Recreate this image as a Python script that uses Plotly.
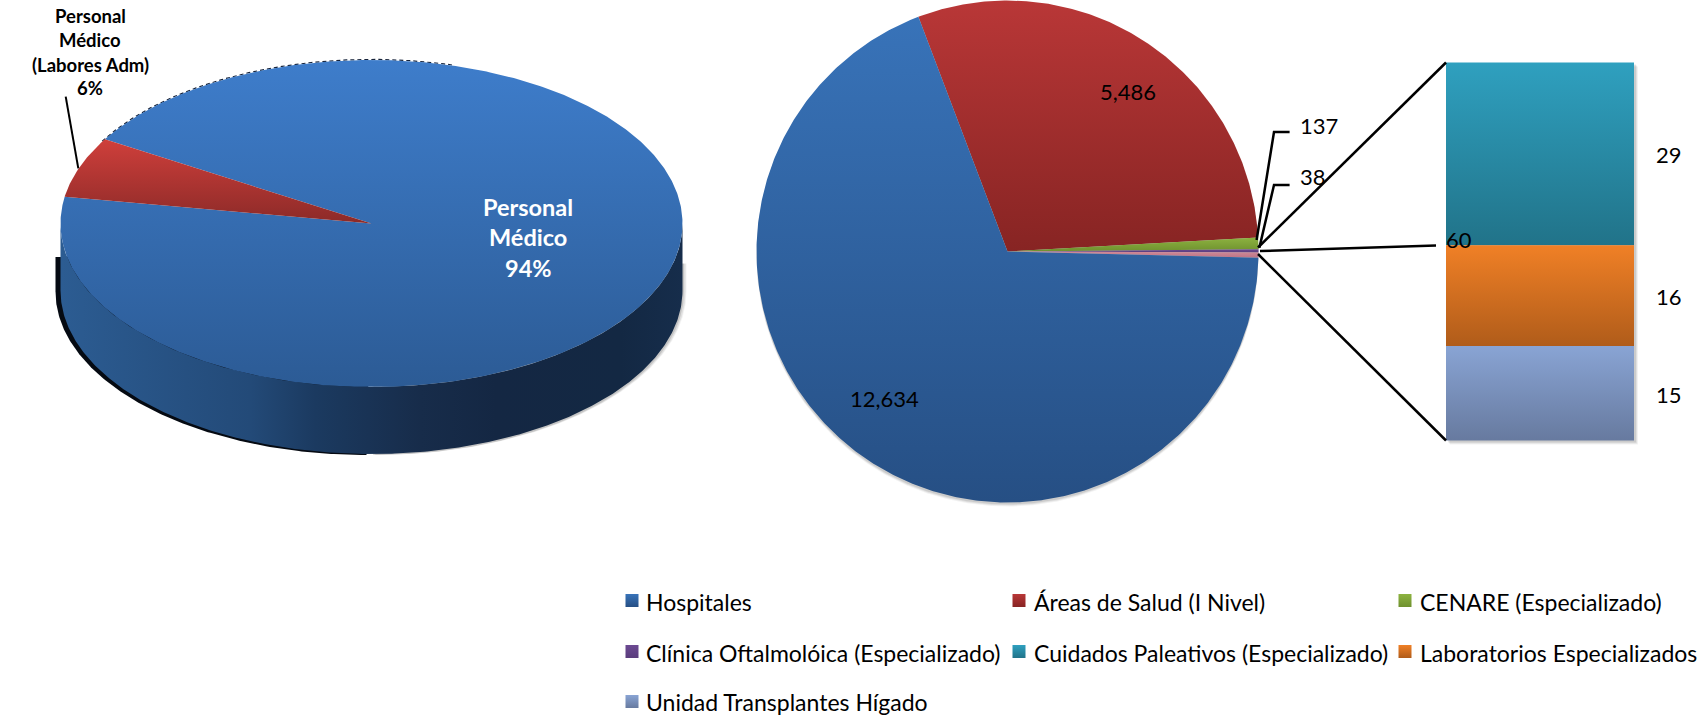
import numpy as np
import plotly.graph_objects as go

# ---- data ----
left_names = ["Personal Médico", "Personal Médico (Labores Adm)"]
left_values = [94, 6]
categories = ["Hospitales", "Áreas de Salud (I Nivel)", "CENARE (Especializado)",
              "Clínica Oftalmolóica (Especializado)", "Cuidados Paleativos (Especializado)",
              "Laboratorios Especializados", "Unidad Transplantes Hígado"]
main_values = [12634, 5486, 137, 38]
detail_values = [29, 16, 15]

# ---- styles ----
FONT = "Lato"
W, H = 1707, 716
grad = {
    "hosp": ("#3873b9", "#264f84"), "areas": ("#b93737", "#872423"),
    "cenare": ("#8db340", "#6f912f"), "clin": ("#6c4a92", "#5a3c7c"),
    "other": ("#cf8a98", "#bd7486"), "cuid": ("#2fa0bf", "#217389"),
    "lab": ("#f08026", "#b05c1a"), "unid": ("#89a4d4", "#677a9f"),
}
fig = go.Figure()


def poly(x, y, colors, name, orientation="vertical", scale=None):
    x, y = np.asarray(x), np.asarray(y)
    if orientation == "vertical":
        start, stop = float(y.min()), float(y.max())
    else:
        start, stop = float(x.min()), float(x.max())
    cs = scale or [[0, colors[0]], [1, colors[1]]]
    fig.add_trace(go.Scatter(
        x=x, y=y, mode="lines", fill="toself", line=dict(width=0), name=name,
        fillgradient=dict(type=orientation, colorscale=cs, start=start, stop=stop),
        hoverinfo="name", showlegend=False))


def solid(x, y, color, name):
    fig.add_trace(go.Scatter(x=x, y=y, mode="lines", fill="toself", fillcolor=color,
                             line=dict(width=0), name=name, hoverinfo="skip", showlegend=False))


def arc(cx, cy, rx, ry, a0, a1):
    t = np.radians(np.linspace(a0, a1, max(int(abs(a1 - a0) * 2), 4)))
    return cx + rx * np.sin(t), cy - ry * np.cos(t)


def line(xs, ys, w=2, color="black", dash=None):
    fig.add_trace(go.Scatter(x=xs, y=ys, mode="lines", line=dict(color=color, width=w, dash=dash),
                             hoverinfo="skip", showlegend=False))


def label(x, y, text, size=22, color="black", bold=False, anchor="center"):
    fig.add_annotation(x=x, y=y, xref="x", yref="y", text=f"<b>{text}</b>" if bold else text,
                       showarrow=False, xanchor=anchor, yanchor="middle",
                       font=dict(family=FONT, size=size, color=color))


# ---- left: tilted pie ----
LX, LY, LRX, LRY, DEPTH = 371.5, 223.5, 311, 163.5, 67
left_total = sum(left_values)
red_start = 279.4
red_end = red_start + 360 * left_values[1] / left_total
# grey halo on the right, black edge on the lower left, then the side wall
for off, alpha in [(4, 0.05), (3, 0.08), (1.5, 0.12)]:
    hx, hy = arc(LX + off, LY + DEPTH + 1, LRX, LRY, 90, 180)
    solid(np.r_[LX, LX + LRX + off, hx, LX], np.r_[LY + 50, LY + 40, hy, LY + 50],
          f"rgba(0,0,0,{alpha})", "halo")
ax, ay = arc(LX - 5, LY + DEPTH + 1, LRX, LRY, 270, 180)
solid(np.r_[LX, LX - 5 - LRX, ax, LX], np.r_[257, 257, ay, 257], "#050a12", "edge")
sx, sy = arc(LX, LY, LRX, LRY, 90, 270)
bx, by = arc(LX, LY + DEPTH, LRX, LRY, 270, 90)
poly(np.r_[sx, bx], np.r_[sy, by], None, "side", "horizontal",
     [[0, "#2c5c92"], [0.305, "#234a78"], [0.41, "#1b3a60"], [0.58, "#172c4a"],
      [0.7, "#142743"], [0.9, "#132843"], [1, "#162d4b"]])
# dark rim along the back of the disc
tx, ty = arc(LX, LY - 0.6, LRX, LRY, -60, 15)
line(tx, ty, 1.2, "#16233a", "4px,3px")
# faces
fx, fy = arc(LX, LY, LRX, LRY, red_end, red_start + 360)
poly(np.r_[LX, fx, LX], np.r_[LY, fy, LY], ("#3e7dcb", "#2c5b95"), left_names[0])
rx_, ry_ = arc(LX, LY, LRX, LRY, red_start, red_end)
poly(np.r_[LX, rx_, LX], np.r_[LY, ry_, LY], ("#cf3f3b", "#8c2a28"), left_names[1])

for y_, t in zip([16, 40, 65, 88], ["Personal", "Médico", "(Labores Adm)", f"{left_values[1]}%"]):
    label(83 * 1.0886, y_, t, size=18.5, bold=True)
for y_, t in zip([207, 237, 268], ["Personal", "Médico", f"{left_values[0]}%"]):
    label(528, y_, t, size=23.5, color="white", bold=True)
line([65.7, 78.3], [96.7, 168.3], 2)

# ---- right: pie with stacked breakout ----
PX, PY, PR = 1007.5, 251.5, 251
all_slices = main_values + [sum(detail_values)]
total = sum(all_slices)
keys = ["hosp", "areas", "cenare", "clin", "other"]
start_angle = 339.2
order = [1, 2, 3, 4, 0]
# soft drop shadow
for off, alpha in [(4, 0.05), (3, 0.07), (2, 0.09)]:
    sx_, sy_ = arc(PX, PY + off, PR, PR, 0, 360)
    solid(sx_, sy_, f"rgba(0,0,0,{alpha})", "shadow")
ang = start_angle
for i in order:
    sweep = 360 * all_slices[i] / total
    ax_, ay_ = arc(PX, PY, PR, PR, ang, ang + sweep)
    poly(np.r_[PX, ax_, PX], np.r_[PY, ay_, PY], grad[keys[i]], categories[i] if i < 4 else "Otros")
    ang += sweep

# stacked column: pixels per unit come from the values
BX0, BX1, BY0, BY1 = 1446, 1634, 62.5, 440.5
ppu = (BY1 - BY0) / sum(detail_values)
for off, alpha in [(4, 0.05), (3, 0.07), (2, 0.09)]:
    solid([BX0 + off, BX1 + off, BX1 + off, BX0 + off, BX0 + off],
          [BY0 + off, BY0 + off, BY1 + off, BY1 + off, BY0 + off], f"rgba(0,0,0,{alpha})", "shadow")
cum = 0
for v, k, cat in zip(detail_values, ["cuid", "lab", "unid"], categories[4:]):
    y0, y1 = BY0 + cum * ppu, BY0 + (cum + v) * ppu
    poly([BX0, BX1, BX1, BX0, BX0], [y0, y0, y1, y1, y0], grad[k], cat)
    label(1669, (y0 + y1) / 2 + 1, f"{v}")
    cum += v

# series + leader lines
line([1258, BX0], [247.5, BY0], 2.5)
line([1258, BX0], [254, BY1], 2.5)
line([1260, 1436], [251, 245.6], 2.5)
line([1256.6, 1274, 1289.6], [240, 132, 132], 2.5)
line([1259.4, 1274, 1289.6], [247.6, 185, 185], 2.5)

label(1128, 91.5, f"{main_values[1]:,}")
label(884, 398, f"{main_values[0]:,}")
label(1319, 125.5, f"{main_values[2]}")
label(1313, 176.5, f"{main_values[3]}")
label(1459, 239, f"{sum(detail_values)}")

# ---- legend ----
col_swatch = [632, 1019, 1405]
col_text = [644, 1032, 1418]
row_swatch = [600.5, 651.5, 701.5]
row_text = [602, 652.5, 701.5]
leg_keys = ["hosp", "areas", "cenare", "clin", "cuid", "lab", "unid"]
for n, (c, k) in enumerate(zip(categories, leg_keys)):
    r, col = divmod(n, 3)
    fig.add_trace(go.Scatter(
        x=[col_swatch[col]], y=[row_swatch[r]], mode="markers", name=c,
        marker=dict(symbol="square", size=13, color=grad[k][0], line=dict(width=0),
                    gradient=dict(type="vertical", color=grad[k][1])),
        hoverinfo="name", showlegend=False))
    label(col_text[col], row_text[r], c, size=23, anchor="left")

fig.update_layout(
    width=W, height=H, margin=dict(l=0, r=0, t=0, b=0), autosize=False,
    paper_bgcolor="white", plot_bgcolor="white", showlegend=False,
    xaxis=dict(range=[0, W], visible=False, fixedrange=True),
    yaxis=dict(range=[H, 0], visible=False, fixedrange=True),
)
fig.write_html("out.html", config=dict(displayModeBar=False),
               post_script="document.body.style.margin='0';")
